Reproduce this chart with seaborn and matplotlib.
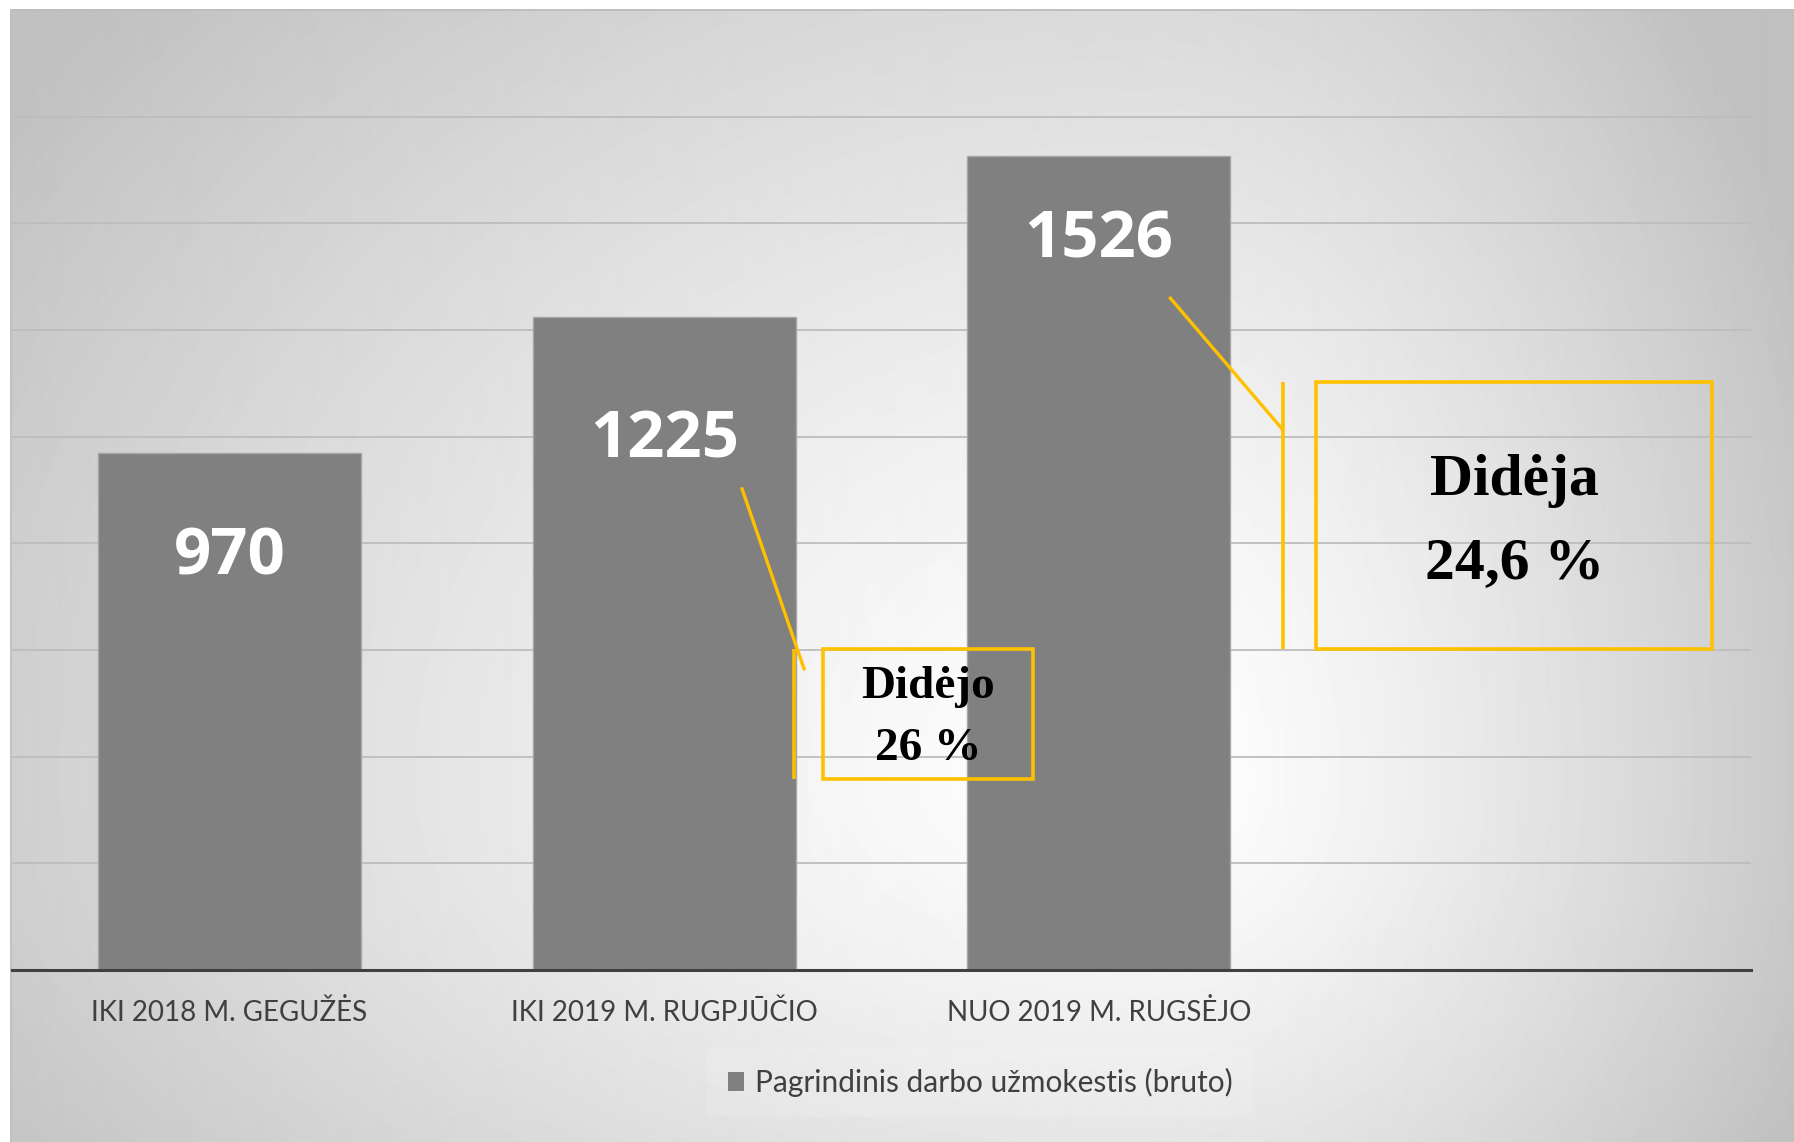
import numpy as np
import matplotlib.pyplot as plt
import seaborn as sns
from matplotlib.patches import Rectangle, Patch

# Data
categories = ['IKI 2018 M. GEGUŽĖS', 'IKI 2019 M. RUGPJŪČIO', 'NUO 2019 M. RUGSĖJO']
values = [970, 1225, 1526]
series_name = 'Pagrindinis darbo užmokestis (bruto)'
note_small = ['Didėjo', '26 %']
note_big = ['Didėja', '24,6 %']

W, H, DPI = 1794, 1142, 100
sns.set_theme(style='white')

fig = plt.figure(figsize=(W / DPI, H / DPI), dpi=DPI)
fig.patch.set_facecolor('white')

# Radial-ish gray gradient background of the chart area
bg = fig.add_axes([10 / W, 0, 1 - 10 / W, (H - 9) / H])
xs = np.arange(10, W)
ys = np.arange(9, H)
X, Y = np.meshgrid(xs, ys)
cx, cy = 1150, 780
sx = np.where(X < cx, 1400, 720)
sy = np.where(Y < cy, 1150, 720)
r = np.clip(np.sqrt(((X - cx) / sx) ** 2 + ((Y - cy) / sy) ** 2), 0, 1)
grad = 255 - 62 * r ** 1.3
bg.imshow(grad, cmap='gray', vmin=0, vmax=255, aspect='auto',
          extent=(10, W, H, 9), interpolation='bilinear')
bg.set_xlim(10, W)
bg.set_ylim(H, 9)
bg.axis('off')
bg.plot([10, W], [9.5, 9.5], color='#bfbfbf', lw=1.2)
bg.plot([10.5, 10.5], [9, H], color='#bfbfbf', lw=1.2)

# Main plot area
ax = fig.add_axes([12 / W, (H - 970) / H, 1739 / W, 960 / H])
ax.set_facecolor('none')
sns.barplot(x=categories, y=values, ax=ax, color='#808080', saturation=1,
            width=0.605, edgecolor='#a6a6a6', linewidth=1, zorder=3)
ax.set_xlim(-0.5, 3.5)
ax.set_ylim(0, 1800)
ax.set_yticks(range(0, 1801, 200))
ax.yaxis.grid(True, color='#bdbdbd', lw=1.3, zorder=0)
ax.set_axisbelow(True)
ax.set_yticklabels([])
ax.tick_params(axis='y', length=0)
ax.set_xticks(range(len(categories)))
ax.set_xticklabels(categories, fontsize=20, color='#404040', family='Lato')
ax.tick_params(axis='x', length=0, pad=21)
ax.set_xlabel('')
ax.set_ylabel('')
for side in ['top', 'right', 'left']:
    ax.spines[side].set_visible(False)
ax.spines['bottom'].set_color('#404040')
ax.spines['bottom'].set_linewidth(2.2)
ax.spines['bottom'].set_zorder(4)

# Value labels inside bars
label_drop = [229, 264, 191]
for i, v in enumerate(values):
    ax.text(i, v - label_drop[i], f'{v}', ha='center', va='baseline',
            color='white', fontsize=47, fontweight='bold', family='Open Sans', zorder=5)

yellow = '#FFC000'
serif = ['Liberation Serif', 'DejaVu Serif']

# Small callout
ax.plot([1.178, 1.323], [905, 562], color=yellow, lw=2.4, zorder=6, solid_capstyle='butt')
ax.plot([1.2995, 1.2995], [358, 602], color=yellow, lw=2.6, zorder=6, solid_capstyle='butt')
ax.add_patch(Rectangle((1.3644, 358), 0.485, 244, fill=False, ec=yellow, lw=2.6, zorder=6))
ax.text(1.608, 510, note_small[0], ha='center', va='baseline', fontsize=34, fontweight='bold',
        family=serif, color='black', zorder=7)
ax.text(1.608, 394, note_small[1], ha='center', va='baseline', fontsize=34, fontweight='bold',
        family=serif, color='black', zorder=7)

# Big callout
ax.plot([2.162, 2.4241], [1262, 1012], color=yellow, lw=2.4, zorder=6, solid_capstyle='butt')
ax.plot([2.4241, 2.4241], [602, 1102], color=yellow, lw=2.6, zorder=6, solid_capstyle='butt')
ax.add_patch(Rectangle((2.499, 602), 0.911, 500, fill=False, ec=yellow, lw=2.6, zorder=6))
ax.text(2.956, 891, note_big[0], ha='center', va='baseline', fontsize=43, fontweight='bold',
        family=serif, color='black', zorder=7)
ax.text(2.956, 735, note_big[1], ha='center', va='baseline', fontsize=43, fontweight='bold',
        family=serif, color='black', zorder=7)

# Legend
handle = Patch(facecolor='#808080', edgecolor='none', label=series_name)
leg = fig.legend(handles=[handle], loc='center', bbox_to_anchor=(980 / W, (H - 1082) / H),
                 frameon=True, handlelength=0.55, handleheight=0.6,
                 handletextpad=0.35, prop={'family': 'Lato', 'size': 21.5})
leg.get_frame().set_facecolor('white')
leg.get_frame().set_alpha(0.12)
leg.get_frame().set_edgecolor('none')
leg.get_frame().set_boxstyle('square')
for t in leg.get_texts():
    t.set_color('#404040')

fig.savefig('out.png', dpi=DPI)
